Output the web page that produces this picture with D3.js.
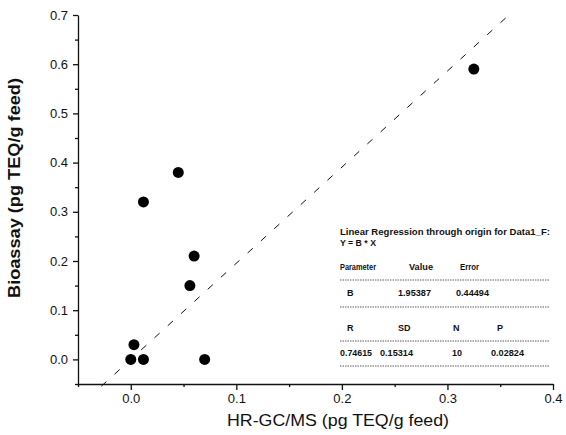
<!DOCTYPE html>
<html>
<head>
    <script src="https://cdnjs.cloudflare.com/ajax/libs/d3/7.8.5/d3.min.js"></script>
    <style>
        body { margin: 0; background: #fff; }
        svg { font-family: "Liberation Sans", Arial, sans-serif; }
        .tick text { font-size: 13px; fill: #111; }
        .stats text { font-size: 9px; font-weight: bold; fill: #111; }
    </style>
</head>
<body>
<svg id="chart"></svg>
<script>
    // data
    const hrgcms   = [0.325, 0.045, 0.012, 0.060, 0.056, 0.003, 0.000, 0.012, 0.070];
    const bioassay = [0.590, 0.380, 0.320, 0.210, 0.150, 0.030, 0.000, 0.000, 0.000];
    const slope = 1.95387;
    const lineRange = [-0.028, 0.358];
    const xTicks = [0.0, 0.1, 0.2, 0.3, 0.4];
    const yTicks = [0.0, 0.1, 0.2, 0.3, 0.4, 0.5, 0.6, 0.7];

    const statsTitle = ["Linear Regression through origin for Data1_F:", "Y = B * X"];
    const paramHead = ["Parameter", "Value", "Error"];
    const paramRow = ["B", "1.95387", "0.44494"];
    const fitHead = ["R", "SD", "N", "P"];
    const fitRow = ["0.74615", "0.15314", "10", "0.02824"];

    const width = 566, height = 435;
    const svg = d3.select("#chart").attr("width", width).attr("height", height);

    const x = d3.scaleLinear().domain([-0.05, 0.4]).range([78, 553]);
    const y = d3.scaleLinear().domain([-0.05, 0.7]).range([384, 15]);

    // axes with minor ticks
    const minorX = d3.range(-0.05, 0.401, 0.05).filter(v => Math.abs(Math.round(v * 10) - v * 10) > 0.01);
    const minorY = d3.range(-0.05, 0.701, 0.05).filter(v => Math.abs(Math.round(v * 10) - v * 10) > 0.01);

    svg.append("g").attr("transform", `translate(0,${y.range()[0]})`)
        .call(d3.axisBottom(x).tickValues(xTicks).tickFormat(d3.format(".1f")).tickSize(6).tickSizeOuter(0).tickPadding(4));
    svg.append("g").attr("transform", `translate(0,${y.range()[0]})`)
        .call(d3.axisBottom(x).tickValues(minorX).tickFormat("").tickSize(3).tickSizeOuter(0))
        .select(".domain").remove();

    svg.append("g").attr("transform", `translate(${x.range()[0]},0)`)
        .call(d3.axisLeft(y).tickValues(yTicks).tickFormat(d3.format(".1f")).tickSize(5).tickSizeOuter(0).tickPadding(5));
    svg.append("g").attr("transform", `translate(${x.range()[0]},0)`)
        .call(d3.axisLeft(y).tickValues(minorY).tickFormat("").tickSize(3).tickSizeOuter(0))
        .select(".domain").remove();

    svg.selectAll(".domain, .tick line").attr("stroke", "#111").attr("stroke-width", 1.3);

    // axis titles
    svg.append("text")
        .attr("x", 338).attr("y", 426)
        .attr("text-anchor", "middle")
        .attr("textLength", 222).attr("lengthAdjust", "spacingAndGlyphs")
        .style("font-size", "17px")
        .style("fill", "#111")
        .text("HR-GC/MS (pg TEQ/g feed)");

    svg.append("text")
        .attr("transform", "translate(20,188) rotate(-90)")
        .attr("text-anchor", "middle")
        .attr("textLength", 220).attr("lengthAdjust", "spacingAndGlyphs")
        .style("font-size", "17px")
        .style("font-weight", "600")
        .style("fill", "#111")
        .text("Bioassay (pg TEQ/g feed)");

    // regression line through origin
    svg.append("line")
        .attr("x1", x(lineRange[0])).attr("y1", y(slope * lineRange[0]))
        .attr("x2", x(lineRange[1])).attr("y2", y(slope * lineRange[1]))
        .attr("stroke", "#111")
        .attr("stroke-width", 1)
        .attr("stroke-dasharray", "7,11");

    // points
    svg.append("g").selectAll("circle")
        .data(hrgcms.map((v, i) => [v, bioassay[i]]))
        .join("circle")
        .attr("cx", d => x(d[0]))
        .attr("cy", d => y(d[1]))
        .attr("r", 5.5)
        .attr("fill", "#000");

    // stats box
    const stats = svg.append("g").attr("class", "stats");
    function put(t, xx, yy, len) {
        const el = stats.append("text").attr("x", xx).attr("y", yy).text(t);
        if (len) el.attr("textLength", len).attr("lengthAdjust", "spacingAndGlyphs");
    }
    put(statsTitle[0], 340, 235, 210);
    put(statsTitle[1], 340, 246, 36);

    [[340, 36], [409, 24], [460, 19]].forEach((p, i) => put(paramHead[i], p[0], 270, p[1]));
    [[347], [398, 33], [456, 33]].forEach((p, i) => put(paramRow[i], p[0], 296, p[1]));
    [[347], [398], [453], [497]].forEach((p, i) => put(fitHead[i], p[0], 331, p[1]));
    [[340, 32], [380, 33], [452], [491, 33]].forEach((p, i) => put(fitRow[i], p[0], 356, p[1]));

    [280, 307, 341, 366].forEach(yy => {
        stats.append("line")
            .attr("x1", 340).attr("x2", 549)
            .attr("y1", yy).attr("y2", yy)
            .attr("stroke", "#333")
            .attr("stroke-width", 0.8)
            .attr("stroke-dasharray", "1.5,1");
    });
</script>
</body>
</html>
